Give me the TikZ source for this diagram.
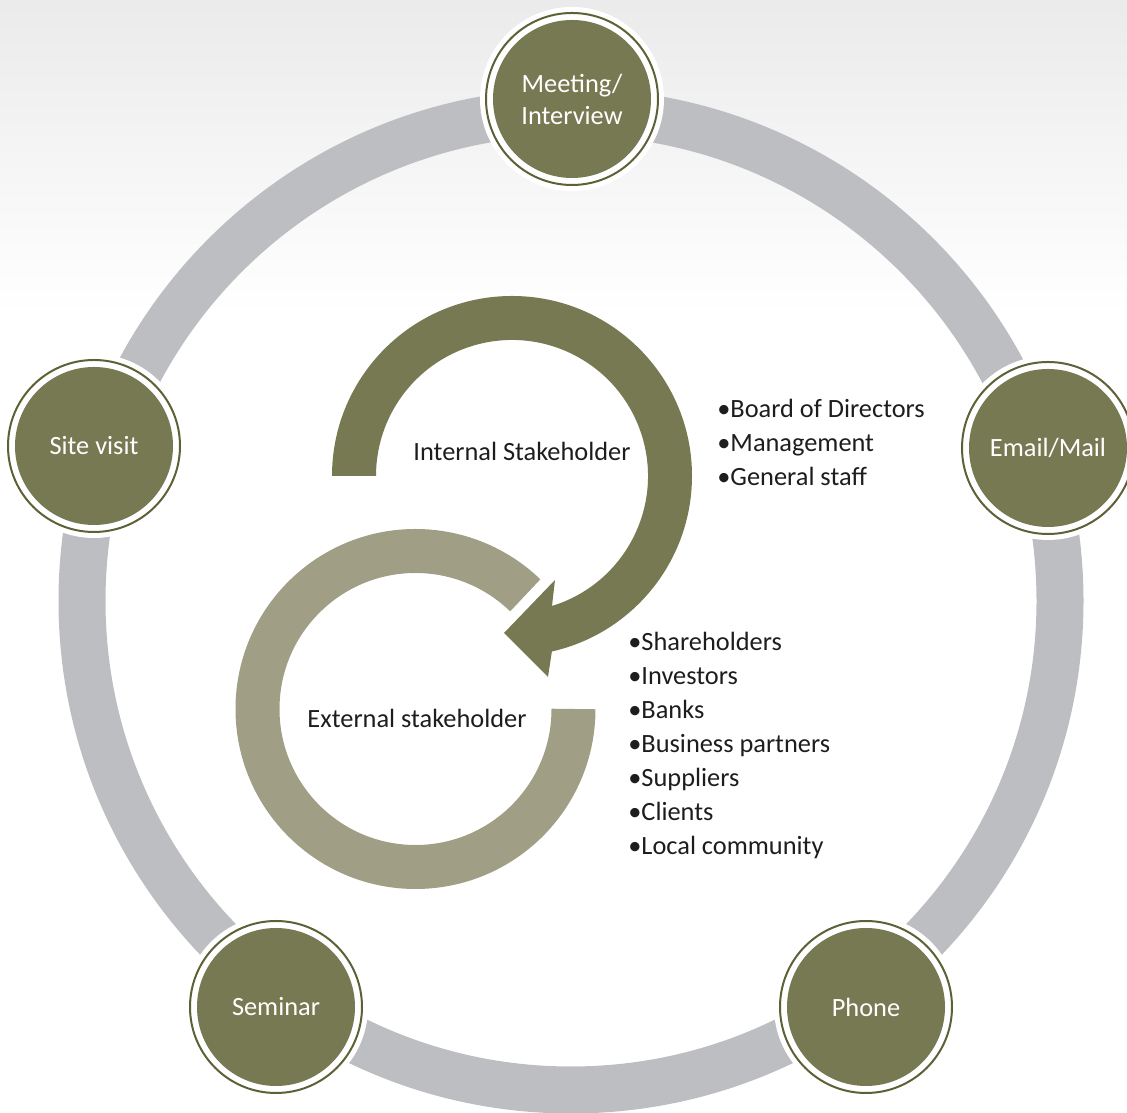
\documentclass[tikz,border=0pt]{standalone}
\usepackage{fontspec}
\setmainfont{Carlito}

\definecolor{stagefill}{HTML}{777952}
\definecolor{stageline}{HTML}{5E6136}
\definecolor{extfill}{HTML}{A09F86}
\definecolor{ringgrey}{HTML}{BDBEC2}
\definecolor{inktext}{HTML}{1E1C1D}

\begin{document}
\begin{tikzpicture}[x=0.2mm, y=0.2mm,
    stage/.style={circle, minimum size=34.4mm, inner sep=0pt,
      draw=stageline, line width=0.4mm, fill=white,
      preaction={draw=white, line width=2.4mm},
      path picture={\fill[stagefill] (path picture bounding box.center) circle (15.8mm);},
      text=white, align=center, font=\fontsize{15}{18.2}\selectfont},
    ring/.style={draw=ringgrey, line width=9.4mm},
    caption/.style={inner sep=0pt, text=inktext, font=\fontsize{15}{18}\selectfont},
    item/.style={caption, anchor=base west}]
  \useasboundingbox (0,0) rectangle (1127,1113);

  % paper background fading out
  \shade[top color=black!8, bottom color=white] (0,800) rectangle (1127,1113);

  % outer ring of channels
  \coordinate (ctr) at (571,512);
  \draw[ring] (ctr) circle[radius=489];

  % channel circles
  \node[stage] (meet)  at (572,1014) {Meeting/\\Interview};
  \node[stage] (mail)  at (1048,665) {Email/Mail};
  \node[stage] (phone) at (866,106)  {Phone};
  \node[stage] (sem)   at (276,106)  {Seminar};
  \node[stage] (site)  at (94,667)   {Site visit};

  % internal arrow with head
  \coordinate (I) at (512,637);
  \fill[stagefill] ([shift={(I)}]180:180) arc[start angle=180, end angle=-77.2, radius=180]
    -- (548,436) -- (504,480) -- (555,533)
    -- ([shift={(I)}]-72.9:136) arc[start angle=-72.9, end angle=180, radius=136] -- cycle;

  % external open ring
  \coordinate (E) at (415.5,404);
  \draw[draw=extfill, line width=8.8mm] ([shift={(E)}]0:158) arc[start angle=0, end angle=-314, radius=158];

  % labels
  \node[caption] (inttxt) at (522,662) {Internal Stakeholder};
  \node[caption] (exttxt) at (417,395) {External stakeholder};

  % stakeholder lists
  \foreach \txt [count=\i] in {Board of Directors, Management, General staff}
    \node[item] (int\i) at (717,{729-34*\i}) {•\txt};
  \foreach \txt [count=\i] in {Shareholders, Investors, Banks, Business partners, Suppliers, Clients, Local community}
    \node[item] (ext\i) at (628,{496-34*\i}) {•\txt};
\end{tikzpicture}
\end{document}
